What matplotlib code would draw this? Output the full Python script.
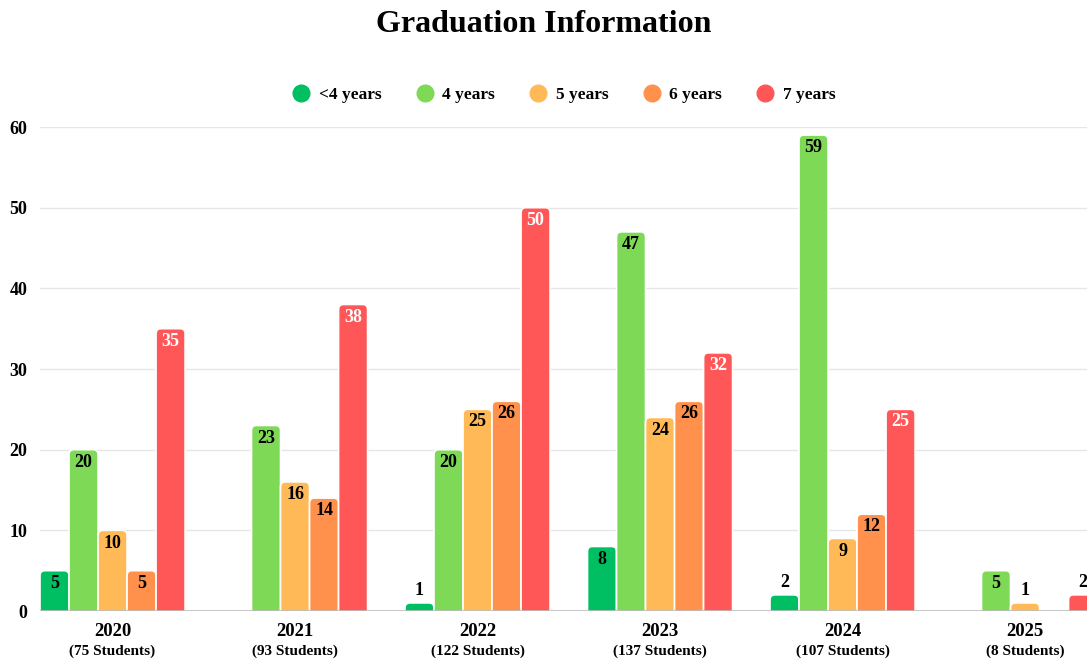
import matplotlib.pyplot as plt
import numpy as np
from matplotlib.patches import FancyBboxPatch
from matplotlib.lines import Line2D

years = ['2020', '2021', '2022', '2023', '2024', '2025']
students = ['(75 Students)', '(93 Students)', '(122 Students)', '(137 Students)', '(107 Students)', '(8 Students)']
series = ['<4 years', '4 years', '5 years', '6 years', '7 years']
under4 = [5, 0, 1, 8, 2, 0]
four = [20, 23, 20, 47, 59, 5]
five = [10, 16, 25, 24, 9, 1]
six = [5, 14, 26, 26, 12, 0]
seven = [35, 38, 50, 32, 25, 2]
colors = ['#00BF63', '#7ED957', '#FFB957', '#FF914D', '#FF5757']
label_colors = ['black', 'black', 'black', 'black', 'white']

plt.rcParams['font.family'] = ['Liberation Serif', 'DejaVu Serif']
plt.rcParams['font.weight'] = 'bold'

fig = plt.figure(figsize=(10.87, 6.61), dpi=100)
ax = fig.add_axes([40/1087, 50/661, 1 - 40/1087, 484/661])

w = 0.159
x = np.arange(len(years))
r = 0.027
aspect = 22.6
for k, vals in enumerate([under4, four, five, six, seven]):
    for i, v in enumerate(vals):
        if v == 0:
            continue
        xc = x[i] + (k - 2) * w
        p = FancyBboxPatch((xc - w / 2, -2), w, v + 2,
                           boxstyle='round,pad=0,rounding_size=%f' % r,
                           mutation_aspect=aspect, facecolor=colors[k],
                           edgecolor='white', linewidth=1.2, zorder=3)
        ax.add_patch(p)
        if v >= 3:
            ax.annotate(str(v), (xc, v), xytext=(0, -3), textcoords='offset points',
                        ha='center', va='top', fontsize=13, fontweight='bold',
                        color=label_colors[k], zorder=4)
        else:
            ax.annotate(str(v), (xc, v), xytext=(0, 3), textcoords='offset points',
                        ha='center', va='bottom', fontsize=13, fontweight='bold',
                        color='black', zorder=4)

ax.set_xlim(-2.5 * w, (1087 - 112) / 182.6)
ax.set_ylim(0, 60)
ax.set_yticks(range(0, 61, 10))
ax.yaxis.grid(True, color='#e6e6e6', linewidth=1)
ax.set_axisbelow(True)
for s in ax.spines.values():
    s.set_visible(False)
ax.axhline(0, color='#bdbdbd', linewidth=1.2, zorder=5)
ax.tick_params(axis='y', length=0, pad=9, labelsize=13)
ax.tick_params(axis='x', length=0, pad=9, labelsize=13.5)
ax.set_xticks(x)
ax.set_xticklabels(years, fontweight='bold')
for lab in ax.get_yticklabels():
    lab.set_fontweight('bold')
for i, s in enumerate(students):
    ax.annotate(s, (x[i], 0), xycoords=('data', 'axes fraction'), xytext=(0, -29),
                textcoords='offset points', ha='center', va='center',
                fontsize=11, fontweight='bold', annotation_clip=False)

fig.suptitle('Graduation Information', y=1 - 25/661, va='center',
             fontsize=23, fontweight='bold')

handles = [Line2D([], [], linestyle='none', marker='o', markersize=12,
                  markerfacecolor=c, markeredgecolor=c) for c in colors]
fig.legend(handles, series, loc='center', bbox_to_anchor=(564/1087, 1 - 95/661),
           ncol=5, frameon=False, handlelength=1, handletextpad=0.5,
           columnspacing=2.0, prop={'weight': 'bold', 'size': 12.5})

fig.savefig('out.png', dpi=100)
